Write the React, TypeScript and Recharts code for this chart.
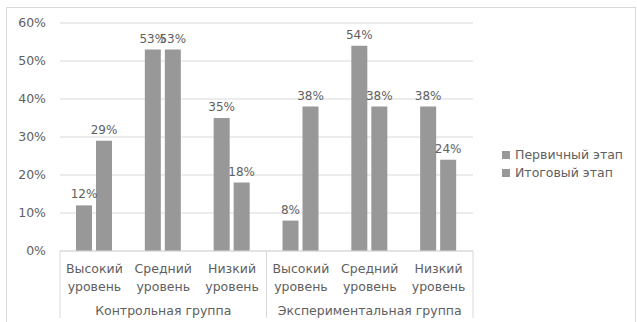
import React from "react";
import { BarChart, Bar, XAxis, YAxis, CartesianGrid, LabelList } from "recharts";

const levels = ["Высокий уровень", "Средний уровень", "Низкий уровень", "Высокий уровень", "Средний уровень", "Низкий уровень"];
const groups = ["Контрольная группа", "Экспериментальная группа"];
const initialStage = [12, 53, 35, 8, 54, 38];
const finalStage = [29, 53, 18, 38, 38, 24];
const seriesNames = ["Первичный этап", "Итоговый этап"];
const yTicks = [0, 10, 20, 30, 40, 50, 60];

const data = levels.map((level, i) => ({
  level,
  group: groups[Math.floor(i / 3)],
  initial: initialStage[i],
  final: finalStage[i],
}));

const W = 637;
const H = 322;
const X_AXIS_H = 71;
const Y_AXIS_W = 60;
const MARGIN = { top: 23, right: 164, bottom: 0, left: 0 };
const BAND = (W - MARGIN.left - MARGIN.right - Y_AXIS_W) / levels.length;
// default tick offset of a bottom axis (tickSize + tickMargin)
const TICK_OFFSET = 8;

const FONT = "'DejaVu Sans', Verdana, sans-serif";
const TEXT = "#606060";
const LINE = "#d9d9d9";
const BAR = "#989898";

const CategoryTick = (props: any) => {
  const { x, y: tickY, payload, index } = props;
  const y = tickY - TICK_OFFSET;
  const [w1, w2] = String(payload.value).split(" ");
  const inGroup = index % 3;
  const groupIdx = Math.floor(index / 3);
  return (
    <g>
      <text x={x} y={y + 17} textAnchor="middle" dominantBaseline="central" fill={TEXT} fontSize={12.5} fontFamily={FONT}>
        {w1}
      </text>
      <text x={x} y={y + 35} textAnchor="middle" dominantBaseline="central" fill={TEXT} fontSize={12.5} fontFamily={FONT}>
        {w2}
      </text>
      {inGroup === 1 && (
        <text x={x} y={y + 59} textAnchor="middle" dominantBaseline="central" fill={TEXT} fontSize={12.5} fontFamily={FONT}>
          {groups[groupIdx]}
        </text>
      )}
      {inGroup === 0 && <line x1={x - BAND / 2} x2={x - BAND / 2} y1={y} y2={y + 67} stroke={LINE} />}
      {inGroup === 2 && <line x1={x + BAND / 2} x2={x + BAND / 2} y1={y} y2={y + 67} stroke={LINE} />}
    </g>
  );
};

export default function App() {
  return (
    <div style={{ position: "absolute", left: 0, top: 0, width: W, height: H, background: "#fff" }}>
      <div
        style={{
          position: "absolute",
          left: 6,
          top: 7,
          width: W - 7,
          height: H,
          border: `1px solid ${LINE}`,
          boxSizing: "border-box",
        }}
      />
      <BarChart width={W} height={H} data={data} margin={MARGIN} barSize={16} barGap={4}>
        <CartesianGrid vertical={false} stroke={LINE} />
        <XAxis
          dataKey="level"
          axisLine={{ stroke: LINE }}
          tickLine={false}
          interval={0}
          tick={<CategoryTick />}
          height={X_AXIS_H}
        />
        <YAxis
          width={Y_AXIS_W}
          domain={[0, 60]}
          ticks={yTicks}
          tickFormatter={(v: number) => `${v}%`}
          axisLine={false}
          tickLine={false}
          tickSize={6}
          tickMargin={8}
          tick={{ fill: TEXT, fontSize: 12.5, fontFamily: FONT }}
        />
        <Bar dataKey="initial" name={seriesNames[0]} fill={BAR} isAnimationActive={false}>
          <LabelList dataKey="initial" position="top" offset={7} formatter={(v: any) => `${v}%`} fill={TEXT} fontSize={12} fontFamily={FONT} />
        </Bar>
        <Bar dataKey="final" name={seriesNames[1]} fill={BAR} isAnimationActive={false}>
          <LabelList dataKey="final" position="top" offset={7} formatter={(v: any) => `${v}%`} fill={TEXT} fontSize={12} fontFamily={FONT} />
        </Bar>
      </BarChart>
      <div
        style={{
          position: "absolute",
          left: 502,
          top: 146,
          fontFamily: FONT,
          fontSize: 12.5,
          color: TEXT,
          lineHeight: "18px",
        }}
      >
        {seriesNames.map((name) => (
          <div key={name} style={{ display: "flex", alignItems: "center", whiteSpace: "nowrap" }}>
            <span style={{ display: "inline-block", width: 8, height: 8, background: BAR, marginRight: 5 }} />
            {name}
          </div>
        ))}
      </div>
    </div>
  );
}
